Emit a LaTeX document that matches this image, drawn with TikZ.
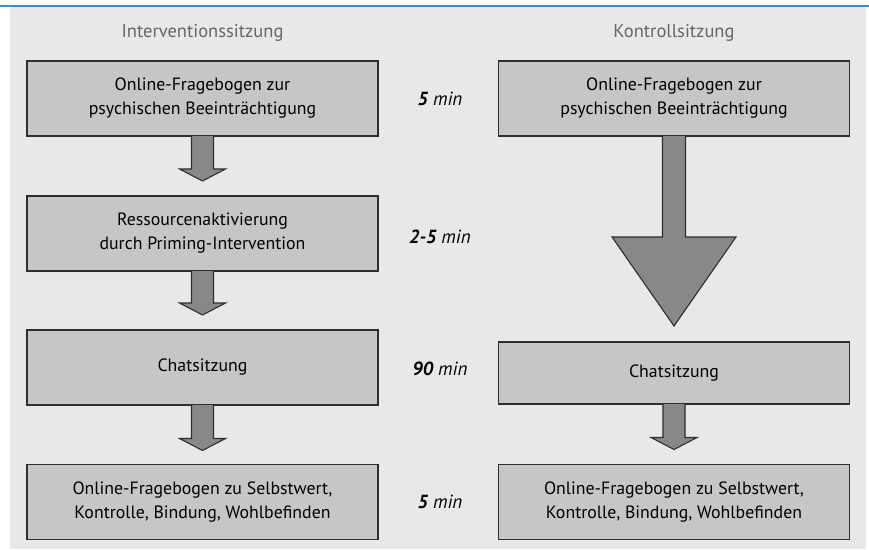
\documentclass[tikz,border=0pt]{standalone}
\usepackage{fontspec}
\setmainfont{PT Sans}
\usetikzlibrary{calc}
\definecolor{panelbg}{HTML}{E8E8E8}
\definecolor{boxfill}{HTML}{C6C6C6}
\definecolor{boxline}{HTML}{2E2E2E}
\definecolor{arrowfill}{HTML}{888888}
\definecolor{topblue}{HTML}{3A8FC2}
\definecolor{headgray}{HTML}{666666}
\tikzset{
  stepbox/.style={draw=boxline, line width=1.1pt, fill=boxfill, rectangle,
    inner sep=0pt, outer sep=0pt, minimum width=351pt, align=center,
    font=\fontsize{17.8}{24}\selectfont, text=black},
  headlabel/.style={font=\fontsize{18.5}{20}\selectfont, text=headgray},
  timelabel/.style={font=\fontsize{19}{20}\selectfont\itshape, text=black},
  blockarr/.style={draw=boxline, line width=1.1pt, fill=arrowfill, line join=miter}
}
% #1 from, #2 to, #3 shaft half, #4 head half, #5 head length, #6 gap
\newcommand\blockarrow[6]{%
  \draw[blockarr] ($(#1.south)+({-#3},0)$) -- ($(#2.north)+({-#3},{-(#6)-(#5)})$)
    -- ($(#2.north)+({-#4},{-(#6)-(#5)})$) -- ($(#2.north)+(0,{-(#6)})$)
    -- ($(#2.north)+({#4},{-(#6)-(#5)})$) -- ($(#2.north)+({#3},{-(#6)-(#5)})$)
    -- ($(#1.south)+({#3},0)$);}
\begin{document}
\begin{tikzpicture}[x=1pt,y=-1pt]
\useasboundingbox (0,0) rectangle (869,549);
\fill[white] (0,0) rectangle (869,549);
\fill[panelbg] (10,7) rectangle (866,549);
\draw[topblue, line width=2pt] (0,6) -- (869,6);

\node[headlabel] (h1) at (202.5,33) {Interventionssitzung};
\node[headlabel] (h2) at (674,33) {Kontrollsitzung};

\node[stepbox, minimum height=75pt] (l1) at (202.5,98.5) {Online-Fragebogen zur\\psychischen Beeinträchtigung};
\node[stepbox, minimum height=75pt] (l2) at (202.5,233.5) {Ressourcenaktivierung\\durch Priming-Intervention};
\node[stepbox, minimum height=75pt] (l3) at (202.5,367.5) {Chatsitzung};
\node[stepbox, minimum height=75pt] (l4) at (202.5,502) {Online-Fragebogen zu Selbstwert,\\Kontrolle, Bindung, Wohlbefinden};

\node[stepbox, minimum height=75pt] (r1) at (674,98.5) {Online-Fragebogen zur\\psychischen Beeinträchtigung};
\node[stepbox, minimum height=62pt] (r3) at (674,373) {Chatsitzung};
\node[stepbox, minimum height=75pt] (r4) at (674,502) {Online-Fragebogen zu Selbstwert,\\Kontrolle, Bindung, Wohlbefinden};

\node[timelabel] (t1) at (440,98.5) {\textbf{5} min};
\node[timelabel] (t2) at (440,236.5) {\textbf{2-5} min};
\node[timelabel] (t3) at (440,369) {\textbf{90} min};
\node[timelabel] (t4) at (440,502) {\textbf{5} min};

\blockarrow{l1}{l2}{11}{23}{12}{15}
\blockarrow{l2}{l3}{11}{23}{12}{15}
\blockarrow{l3}{l4}{11}{23}{12}{14}
\blockarrow{r1}{r3}{11.5}{62}{89}{16}
\blockarrow{r3}{r4}{11}{23}{12}{15}
\end{tikzpicture}
\end{document}
